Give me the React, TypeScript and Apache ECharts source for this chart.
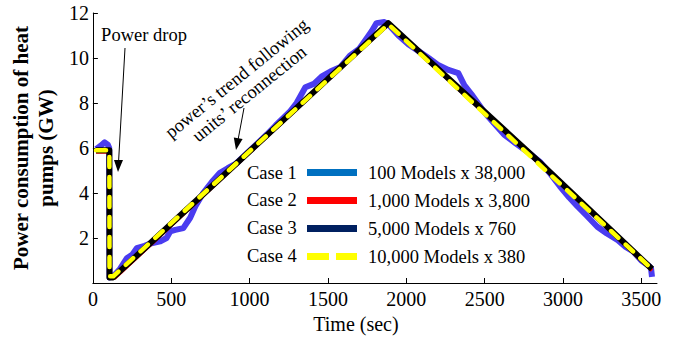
import React, { useEffect, useRef } from "react";
import * as echarts from "echarts";

// Heat pump power consumption after a power drop, four aggregation cases.
const xTicks = [0, 500, 1000, 1500, 2000, 2500, 3000, 3500];

const caseNames = ["Case 1", "Case 2", "Case 3", "Case 4"];
const caseModels = [
  "100 Models x 38,000",
  "1,000 Models x 3,800",
  "5,000 Models x 760",
  "10,000 Models x 380",
];

// Case 1: 100 models, noisiest aggregate
const case1Time = [
  20, 50, 75, 95, 104, 106, 130, 170, 216, 250, 280, 330, 366, 430, 470, 494,
  526, 577, 621, 653, 704, 760, 811, 860, 913, 980, 1050, 1110, 1166, 1255,
  1300, 1356, 1410, 1464, 1515, 1580, 1640, 1699, 1750, 1780, 1810, 1860,
  1885, 1950, 2015, 2080, 2142, 2200, 2269, 2332, 2370, 2415, 2497, 2560,
  2624, 2700, 2780, 2858, 2920, 2980, 3040, 3093, 3150, 3219, 3280, 3350,
  3400, 3448, 3500, 3550, 3562, 3568,
];
const case1Power = [
  5.95, 6.1, 6.25, 6.15, 6.0, 0.25, 0.3, 0.6, 1.1, 1.25, 1.55, 1.65, 1.75,
  1.85, 2.0, 2.3, 2.36, 2.44, 2.9, 3.4, 4.0, 4.5, 4.9, 5.1, 5.3, 5.75, 6.2,
  6.6, 7.0, 7.6, 8.0, 8.7, 8.85, 9.2, 9.4, 9.6, 10.1, 10.4, 10.9, 11.2,
  11.55, 11.6, 11.5, 11.0, 10.6, 10.3, 10.0, 9.7, 9.47, 9.33, 8.8, 8.4, 7.6,
  7.1, 6.6, 6.2, 5.8, 5.35, 4.85, 4.3, 3.8, 3.4, 3.0, 2.5, 2.2, 1.9, 1.6,
  1.4, 1.0, 0.75, 0.65, 0.27,
];

// Case 2: 1,000 models
const case2Time = [20, 105, 107, 140, 1000, 1885, 2900, 3568];
const case2Power = [5.82, 5.82, 0.22, 0.22, 5.8, 11.5, 4.98, 0.56];

// Case 3: 5,000 models
const case3Time = [20, 105, 106, 130, 1885, 2860, 3568];
const case3Power = [5.9, 5.9, 0.25, 0.25, 11.55, 5.3, 0.62];

// Case 4: 10,000 models
const case4Time = [20, 105, 106, 130, 1885, 3568];
const case4Power = [5.9, 5.9, 0.3, 0.3, 11.5, 0.62];

const pairs = (t: number[], v: number[]) => t.map((x, i) => [x, v[i]]);

const FONT = "'Liberation Serif', 'Times New Roman', Times, serif";

export default function App() {
  const ref = useRef<HTMLDivElement>(null);

  useEffect(() => {
    if (!ref.current) return;
    const chart = echarts.init(ref.current, null, { renderer: "svg" });

    const legendColors = ["#0070c0", "#ff0000", "#002060", "#ffff00"];
    const legendIcons = [
      "rect",
      "rect",
      "rect",
      "path://M0,0H22V7H0Z M29,0H50V7H29Z",
    ];
    const rowY = [173, 200, 228, 256];

    chart.setOption({
      animation: false,
      backgroundColor: "#ffffff",
      grid: { left: 89, right: 27, top: 13, bottom: 58 },
      xAxis: {
        type: "value",
        min: 0,
        max: 3600,
        splitLine: { show: false },
        axisLine: { show: true, lineStyle: { color: "#000", width: 1 } },
        axisTick: {
          show: true,
          inside: true,
          length: 5,
          customValues: xTicks,
          lineStyle: { color: "#000" },
        },
        axisLabel: {
          customValues: xTicks,
          color: "#000",
          fontFamily: FONT,
          fontSize: 20,
          margin: 6,
          formatter: (v: number) => String(v),
        },
        name: "Time (sec)",
        nameLocation: "middle",
        nameGap: 30,
        nameTextStyle: {
          color: "#000",
          fontFamily: FONT,
          fontSize: 20,
          padding: [0, 38, 0, 0],
        },
      },
      yAxis: {
        type: "value",
        min: 0,
        max: 12,
        interval: 2,
        splitLine: { show: false },
        axisLine: { show: true, lineStyle: { color: "#000", width: 1 } },
        axisTick: {
          show: true,
          inside: true,
          length: 5,
          lineStyle: { color: "#000" },
        },
        axisLabel: {
          color: "#000",
          fontFamily: FONT,
          fontSize: 20,
          margin: 4,
          formatter: (v: number) => (v === 0 ? "" : String(v)),
        },
        name: "Power consumption of heat\npumps (GW)",
        nameLocation: "middle",
        nameRotate: 90,
        nameGap: 26,
        nameTextStyle: {
          color: "#000",
          fontFamily: FONT,
          fontSize: 21,
          fontWeight: "bold",
          lineHeight: 25,
        },
      },
      legend: {
        orient: "vertical",
        left: 307,
        top: 162,
        padding: 0,
        itemGap: 7,
        itemWidth: 50,
        itemHeight: 7,
        symbolKeepAspect: false,
        z: 10,
        data: caseNames.map((n, i) => ({
          name: n,
          icon: legendIcons[i],
          itemStyle: { color: legendColors[i], borderWidth: 0 },
        })),
        formatter: (name: string) => caseModels[caseNames.indexOf(name)],
        textStyle: {
          color: "#000",
          fontFamily: FONT,
          fontSize: 18.5,
          lineHeight: 21,
          padding: [0, 0, 0, 6],
        },
      },
      graphic: [
        {
          type: "rect",
          z: 3,
          shape: { x: 240, y: 160, width: 295, height: 112 },
          style: { fill: "#ffffff" },
        },
        ...caseNames.map((n, i) => ({
          type: "text",
          z: 10,
          x: 247,
          y: rowY[i],
          style: {
            text: n,
            fill: "#000",
            fontFamily: FONT,
            fontSize: 18.5,
            verticalAlign: "middle",
            align: "left",
          },
        })),
        {
          type: "text",
          z: 10,
          x: 144,
          y: 35,
          style: {
            text: "Power drop",
            fill: "#000",
            fontFamily: FONT,
            fontSize: 18.5,
            align: "center",
            verticalAlign: "middle",
          },
        },
        {
          type: "line",
          z: 10,
          shape: { x1: 125, y1: 48, x2: 118.6, y2: 161 },
          style: { stroke: "#000", lineWidth: 1 },
        },
        {
          type: "polygon",
          z: 10,
          shape: { points: [[118, 172], [114, 160], [123, 160]] },
          style: { fill: "#000" },
        },
        {
          type: "text",
          z: 10,
          x: 243,
          y: 86,
          rotation: (39 * Math.PI) / 180,
          style: {
            text: "power\u2019s trend following\nunits\u2019 reconnection",
            fill: "#000",
            fontFamily: FONT,
            fontSize: 18.5,
            lineHeight: 20,
            align: "center",
            verticalAlign: "middle",
          },
        },
        {
          type: "line",
          z: 10,
          shape: { x1: 244, y1: 108, x2: 238.2, y2: 139 },
          style: { stroke: "#000", lineWidth: 1 },
        },
        {
          type: "polygon",
          z: 10,
          shape: { points: [[236, 150], [233.8, 137.4], [242.6, 139]] },
          style: { fill: "#000" },
        },
      ],
      series: [
        {
          name: "Case 1",
          type: "line",
          data: pairs(case1Time, case1Power),
          showSymbol: false,
          symbol: "none",
          lineStyle: { color: "#4a3cf0", width: 6, join: "round" },
          itemStyle: { color: "#4a3cf0" },
        },
        {
          name: "Case 2",
          type: "line",
          data: pairs(case2Time, case2Power),
          showSymbol: false,
          symbol: "none",
          lineStyle: { color: "#ff0000", width: 3.5, join: "round" },
          itemStyle: { color: "#ff0000" },
        },
        {
          name: "Case 3",
          type: "line",
          data: pairs(case3Time, case3Power),
          showSymbol: false,
          symbol: "none",
          lineStyle: { color: "#000000", width: 6, join: "round" },
          itemStyle: { color: "#000000" },
        },
        {
          name: "Case 4",
          type: "line",
          data: pairs(case4Time, case4Power),
          showSymbol: false,
          symbol: "none",
          lineStyle: {
            color: "#ffff00",
            width: 4.5,
            type: [10, 10],
            cap: "round",
            join: "round",
          },
          itemStyle: { color: "#ffff00" },
        },
      ],
    });

    return () => chart.dispose();
  }, []);

  return (
    <div
      ref={ref}
      style={{ position: "fixed", left: 0, top: 0, width: 684, height: 341 }}
    />
  );
}
